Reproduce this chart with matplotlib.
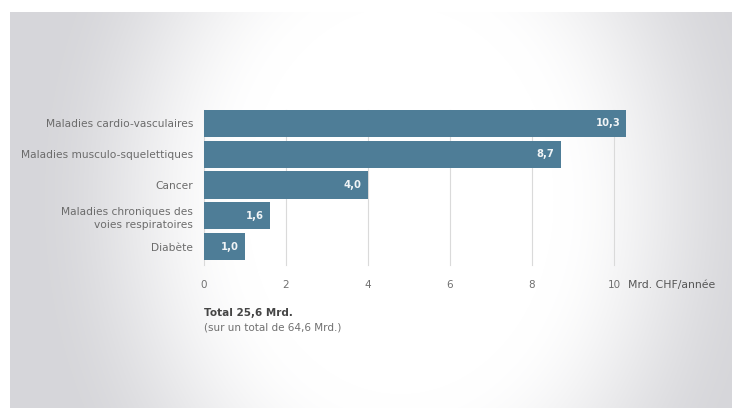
import numpy as np
import matplotlib.pyplot as plt

# Données
categories = ["Maladies cardio-vasculaires", "Maladies musculo-squelettiques", "Cancer",
              "Maladies chroniques des\nvoies respiratoires", "Diabète"]
valeurs = [10.3, 8.7, 4.0, 1.6, 1.0]
etiquettes = ["10,3", "8,7", "4,0", "1,6", "1,0"]
ticks = [0, 2, 4, 6, 8, 10]

plt.rcParams['font.family'] = ['DejaVu Sans']

fig = plt.figure(figsize=(7.32, 4.08), dpi=100, facecolor='white')

# fond dégradé (bande blanche en haut et à gauche)
bg = fig.add_axes([10 / 732, 0, 1 - 10 / 732, 1 - 12 / 408], zorder=-1)
yy, xx = np.mgrid[12:408, 10:732]
r = np.sqrt(((xx - 400) / 340.0) ** 2 + ((yy - 200) / 430.0) ** 2)
t = np.clip((r - 0.45) / 0.65, 0, 1)
t = t * t * (3 - 2 * t)
shade = 1.0 - 0.16 * t
img = np.dstack([shade, shade, 1.0 - 0.145 * t])
bg.imshow(np.clip(img, 0, 1), aspect='auto', extent=[0, 1, 0, 1])
bg.axis('off')

ax = fig.add_axes([0.2787, 0.3578, 0.6721, 0.3775])
ax.patch.set_alpha(0)
pos = np.arange(len(categories))
ax.barh(pos, valeurs, height=0.88, color='#4e7d97', zorder=2)
for p, v, t in zip(pos, valeurs, etiquettes):
    ax.text(v - 0.15, p, t, ha='right', va='center', color='#f0f4f6',
            fontsize=7.2, fontweight='bold', zorder=3)

ax.set_xlim(0, 12)
ax.set_ylim(len(categories) - 0.5, -0.5)
for t in ticks:
    ax.plot([t, t], [-0.45, 4.6], color='#dadada', lw=0.8, zorder=1, clip_on=False)

ax.set_yticks(pos)
ax.set_yticklabels(categories, fontsize=7.7, color='#6b6b6b', ha='right', linespacing=1.35)
ax.tick_params(axis='y', length=0, pad=8)
ax.set_xticks([])
for s in ax.spines.values():
    s.set_visible(False)

for t in ticks:
    ax.text(t, 5.25, str(t), ha='center', va='center', fontsize=7.5, color='#707070')
ax.text(10.35, 5.25, "Mrd. CHF/année", ha='left', va='center', fontsize=7.8, color='#555555')

fig.text(204 / 732, 1 - 313 / 408, "Total 25,6 Mrd.", fontsize=7.5, fontweight='bold',
         color='#454545', ha='left', va='center')
fig.text(204 / 732, 1 - 328 / 408, "(sur un total de 64,6 Mrd.)", fontsize=7.5,
         color='#707070', ha='left', va='center')

fig.savefig("out.png", dpi=100, facecolor='white')
